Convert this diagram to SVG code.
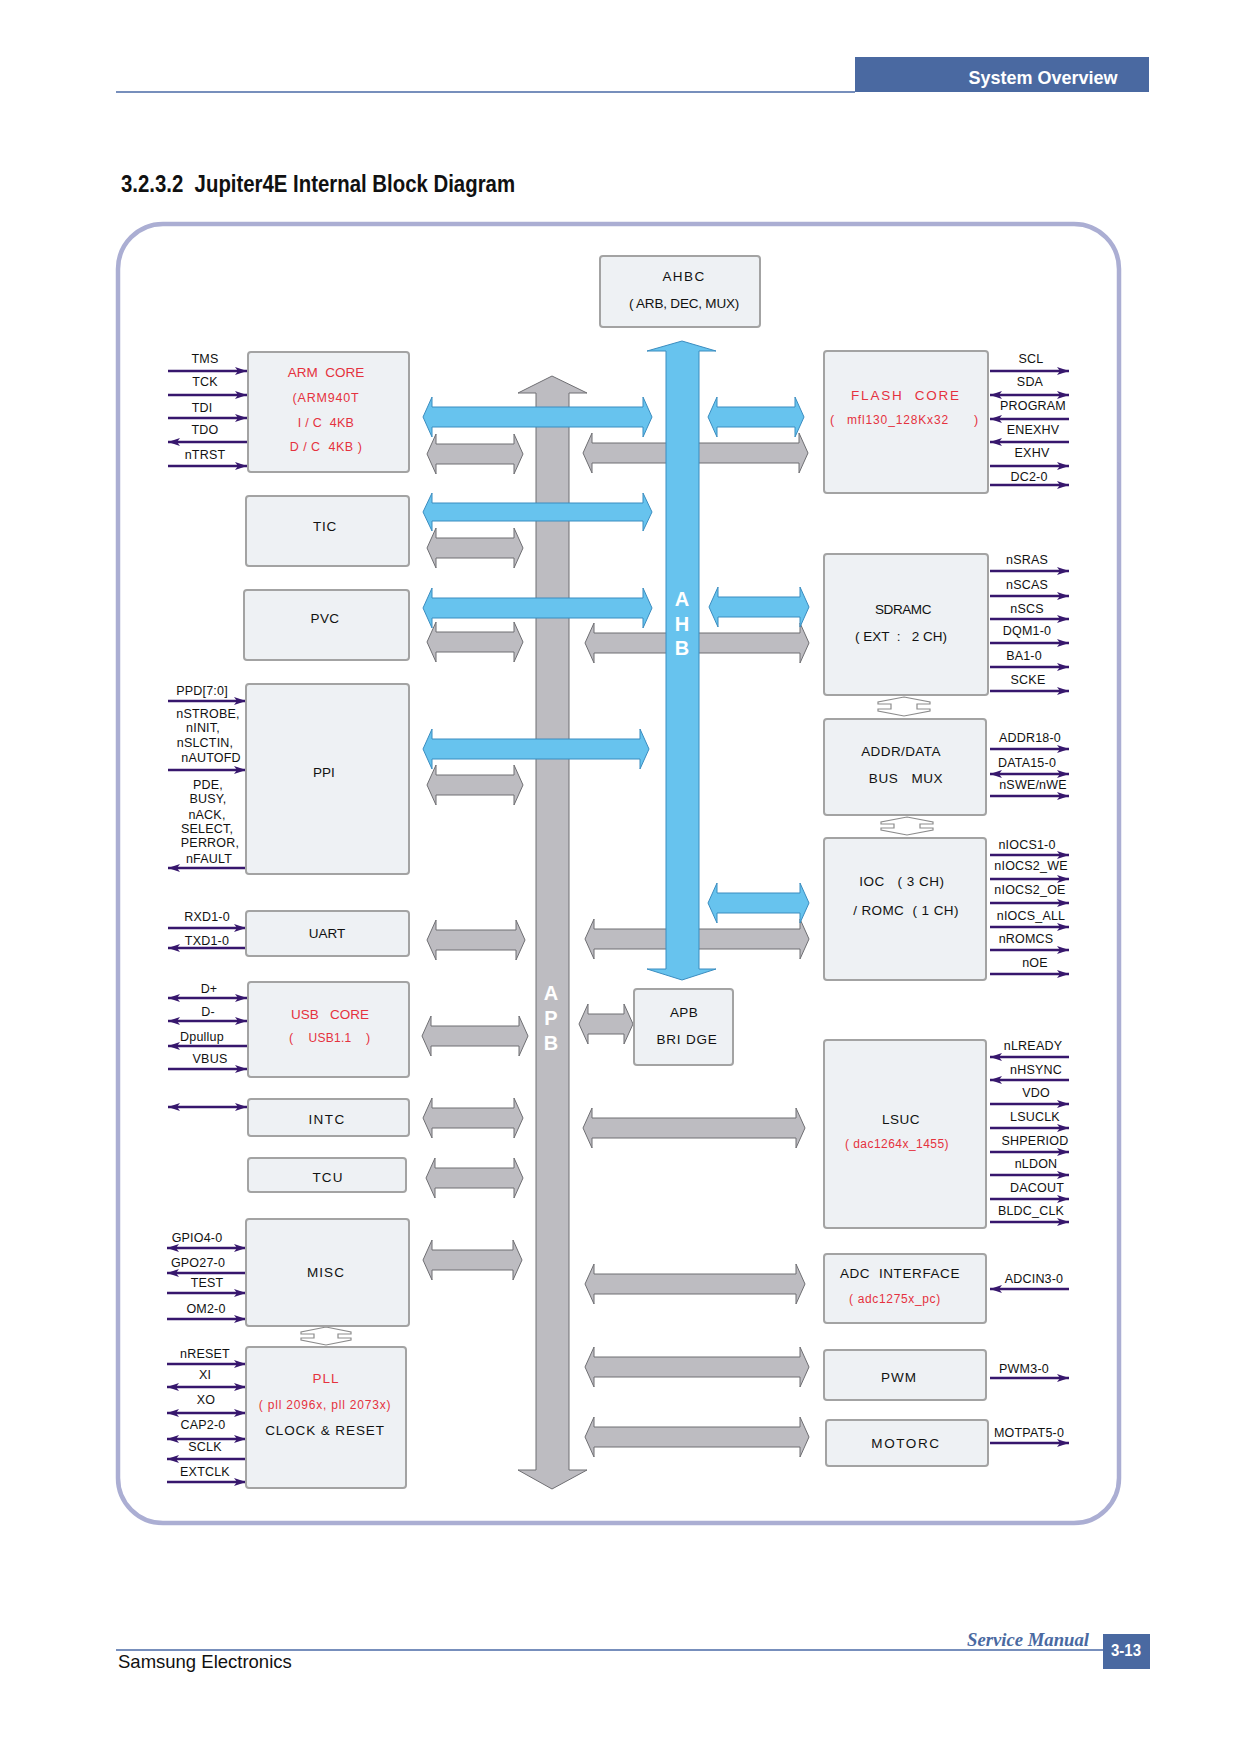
<svg xmlns="http://www.w3.org/2000/svg" width="1240" height="1754" viewBox="0 0 1240 1754" xml:space="preserve">
<defs>
<style>
text{white-space:pre}
.bx{fill:#eef1f4;stroke:#a3a3a3;stroke-width:2}
.t{font-family:"Liberation Sans",Arial,sans-serif;font-size:13.5px;fill:#111;text-anchor:middle}
.r{fill:#e5323e;font-size:12.5px}
.s{font-family:"Liberation Sans",Arial,sans-serif;font-size:12.5px;fill:#111;text-anchor:middle;letter-spacing:0.2px}
.ln{stroke:#37176d;stroke-width:2.5;fill:none}
.bl{fill:#67c3ee;stroke:#3b8dc0;stroke-width:1}
.gr{fill:#bdbcc1;stroke:#6f6f73;stroke-width:1}
.cn{fill:#fff;stroke:#8c8c8c;stroke-width:1.2}
.bus{font-family:"Liberation Sans",Arial,sans-serif;font-weight:bold;font-size:20px;fill:#fff;text-anchor:middle}
.R{marker-end:url(#ah)}
.L{marker-start:url(#ah)}
.B{marker-start:url(#ah);marker-end:url(#ah)}
</style>
<marker id="ah" viewBox="0 0 12 8" refX="12" refY="4" markerWidth="12" markerHeight="8" markerUnits="userSpaceOnUse" orient="auto-start-reverse"><path d="M0,0 L12,4 L0,8 L3,4 z" fill="#37176d"/></marker>
</defs>
<rect width="1240" height="1754" fill="#fff"/>

<g id="header">
<line x1="116" y1="92" x2="855" y2="92" stroke="#4a6aa6" stroke-width="1.5"/>
<rect x="855" y="57" width="294" height="35" fill="#4a69a1"/>
<text x="1043" y="84" font-family="Liberation Sans, Arial, sans-serif" font-weight="bold" font-size="18" fill="#fff" text-anchor="middle">System Overview</text>
<text x="121" y="192" font-family="Liberation Sans, Arial, sans-serif" font-weight="bold" font-size="23" fill="#111" textLength="394" lengthAdjust="spacingAndGlyphs">3.2.3.2  Jupiter4E Internal Block Diagram</text>
</g>

<rect id="frame" x="118" y="224" width="1001" height="1299" rx="45" fill="none" stroke="#abaed3" stroke-width="4.5"/>

<g id="connectors">
<polygon class="gr" points="583,453 592,433 592,443 799,443 799,433 808,453 799,473 799,463 592,463 592,473"/>
<polygon class="gr" points="585,643 594,623 594,633 800,633 800,623 809,643 800,663 800,653 594,653 594,663"/>
<polygon class="gr" points="585,939 594,919 594,929 800,929 800,919 809,939 800,959 800,949 594,949 594,959"/>
<polygon class="gr" points="579,1024 588,1004 588,1014 624,1014 624,1004 633,1024 624,1044 624,1034 588,1034 588,1044"/>
<polygon class="gr" points="583,1128 592,1108 592,1118 796,1118 796,1108 805,1128 796,1148 796,1138 592,1138 592,1148"/>
<polygon class="gr" points="585,1284 594,1264 594,1274 796,1274 796,1264 805,1284 796,1304 796,1294 594,1294 594,1304"/>
<polygon class="gr" points="585,1367 594,1347 594,1357 800,1357 800,1347 809,1367 800,1387 800,1377 594,1377 594,1387"/>
<polygon class="gr" points="585,1437 594,1417 594,1427 800,1427 800,1417 809,1437 800,1457 800,1447 594,1447 594,1457"/>

<polygon class="bl" points="682,341 716,351 699,351 699,969 716,969 682,980 647,969 666,969 666,351 647,351"/>
<text class="bus" x="682" y="606">A</text>
<text class="bus" x="682" y="631">H</text>
<text class="bus" x="682" y="655">B</text>

<polygon class="gr" points="552,376 587,393 569,393 569,1470 587,1470 552,1489 518,1470 536,1470 536,393 518,393"/>
<text class="bus" x="551" y="1000">A</text>
<text class="bus" x="551" y="1025">P</text>
<text class="bus" x="551" y="1050">B</text>

<polygon class="gr" points="427,454 436,434 436,444 514,444 514,434 523,454 514,474 514,464 436,464 436,474"/>
<polygon class="gr" points="427,548 436,528 436,538 514,538 514,528 523,548 514,568 514,558 436,558 436,568"/>
<polygon class="gr" points="427,642 436,622 436,632 514,632 514,622 523,642 514,662 514,652 436,652 436,662"/>
<polygon class="gr" points="427,785 436,765 436,775 514,775 514,765 523,785 514,805 514,795 436,795 436,805"/>
<polygon class="gr" points="427,940 436,920 436,930 516,930 516,920 525,940 516,960 516,950 436,950 436,960"/>
<polygon class="gr" points="422,1036 431,1016 431,1026 519,1026 519,1016 528,1036 519,1056 519,1046 431,1046 431,1056"/>
<polygon class="gr" points="423,1118 432,1098 432,1108 514,1108 514,1098 523,1118 514,1138 514,1128 432,1128 432,1138"/>
<polygon class="gr" points="426,1178 435,1158 435,1168 514,1168 514,1158 523,1178 514,1198 514,1188 435,1188 435,1198"/>
<polygon class="gr" points="423,1260 432,1240 432,1250 513,1250 513,1240 522,1260 513,1280 513,1270 432,1270 432,1280"/>

<polygon class="bl" points="423,417 432,397 432,407 643,407 643,397 652,417 643,437 643,427 432,427 432,437"/>
<polygon class="bl" points="423,512 432,493 432,503 643,503 643,493 652,512 643,531 643,521 432,521 432,531"/>
<polygon class="bl" points="423,608 432,588 432,598 643,598 643,588 652,608 643,628 643,618 432,618 432,628"/>
<polygon class="bl" points="423,749 432,729 432,739 640,739 640,729 649,749 640,769 640,759 432,759 432,769"/>

<polygon class="bl" points="708,417 717,397 717,407 795,407 795,397 804,417 795,437 795,427 717,427 717,437"/>
<polygon class="bl" points="709,607 718,587 718,597 800,597 800,587 809,607 800,627 800,617 718,617 718,627"/>
<polygon class="bl" points="708,903 717,883 717,893 800,893 800,883 809,903 800,923 800,913 717,913 717,923"/>

<polygon class="cn" points="904,697 930,702 930,704 917,704 917,709 930,709 930,711 904,716 878,711 878,709 891,709 891,704 878,704 878,702"/>
<polygon class="cn" points="907,817 933,822 933,824 920,824 920,828 933,828 933,830 907,835 881,830 881,828 894,828 894,824 881,824 881,822"/>
<polygon class="cn" points="326,1327 351,1332 351,1334 338,1334 338,1338 351,1338 351,1340 326,1345 301,1340 301,1338 314,1338 314,1334 301,1334 301,1332"/>

<path class="ln R" d="M168 371H247"/>
<path class="ln R" d="M168 395H247"/>
<path class="ln R" d="M168 418H247"/>
<path class="ln L" d="M168 442H247"/>
<path class="ln R" d="M168 466H247"/>
<path class="ln R" d="M168 701H246"/>
<path class="ln R" d="M168 770H246"/>
<path class="ln L" d="M168 868H246"/>
<path class="ln R" d="M168 928H246"/>
<path class="ln L" d="M168 948H246"/>
<path class="ln B" d="M168 998H247"/>
<path class="ln B" d="M168 1021H247"/>
<path class="ln L" d="M168 1046H247"/>
<path class="ln R" d="M168 1069H247"/>
<path class="ln B" d="M168 1107H247"/>
<path class="ln B" d="M167 1248H246"/>
<path class="ln L" d="M167 1273H246"/>
<path class="ln R" d="M167 1293H246"/>
<path class="ln R" d="M167 1319H246"/>
<path class="ln R" d="M167 1364H246"/>
<path class="ln B" d="M167 1387H246"/>
<path class="ln B" d="M167 1413H246"/>
<path class="ln B" d="M167 1439H246"/>
<path class="ln L" d="M167 1459H246"/>
<path class="ln R" d="M167 1482H246"/>

<path class="ln R" d="M990 371H1069"/>
<path class="ln B" d="M990 395H1069"/>
<path class="ln L" d="M990 419H1069"/>
<path class="ln L" d="M990 442H1069"/>
<path class="ln R" d="M990 466H1069"/>
<path class="ln R" d="M990 485H1069"/>
<path class="ln R" d="M990 571H1069"/>
<path class="ln R" d="M990 596H1069"/>
<path class="ln R" d="M990 619H1069"/>
<path class="ln R" d="M990 643H1069"/>
<path class="ln R" d="M990 667H1069"/>
<path class="ln R" d="M990 691H1069"/>
<path class="ln R" d="M990 749H1069"/>
<path class="ln B" d="M990 774H1069"/>
<path class="ln R" d="M990 796H1069"/>
<path class="ln R" d="M990 855H1069"/>
<path class="ln R" d="M990 879H1069"/>
<path class="ln R" d="M990 903H1069"/>
<path class="ln R" d="M990 927H1069"/>
<path class="ln R" d="M990 950H1069"/>
<path class="ln R" d="M990 974H1069"/>
<path class="ln L" d="M990 1057H1069"/>
<path class="ln L" d="M990 1080H1069"/>
<path class="ln R" d="M990 1104H1069"/>
<path class="ln R" d="M990 1128H1069"/>
<path class="ln R" d="M990 1152H1069"/>
<path class="ln R" d="M990 1175H1069"/>
<path class="ln R" d="M990 1199H1069"/>
<path class="ln R" d="M990 1222H1069"/>
<path class="ln L" d="M990 1289H1069"/>
<path class="ln R" d="M990 1378H1069"/>
<path class="ln R" d="M990 1443H1069"/>
</g>

<g id="signal-labels">
<text class="s" x="205" y="363">TMS</text>
<text class="s" x="205" y="386">TCK</text>
<text class="s" x="202" y="412">TDI</text>
<text class="s" x="205" y="434">TDO</text>
<text class="s" x="205" y="459">nTRST</text>
<text class="s" x="202" y="695">PPD[7:0]</text>
<text class="s" x="208" y="718">nSTROBE,</text>
<text class="s" x="203" y="732">nINIT,</text>
<text class="s" x="205" y="747">nSLCTIN,</text>
<text class="s" x="211" y="762">nAUTOFD</text>
<text class="s" x="208" y="789">PDE,</text>
<text class="s" x="208" y="803">BUSY,</text>
<text class="s" x="207" y="819">nACK,</text>
<text class="s" x="207" y="833">SELECT,</text>
<text class="s" x="210" y="847">PERROR,</text>
<text class="s" x="209" y="863">nFAULT</text>
<text class="s" x="207" y="921">RXD1-0</text>
<text class="s" x="207" y="945">TXD1-0</text>
<text class="s" x="209" y="993">D+</text>
<text class="s" x="208" y="1016">D-</text>
<text class="s" x="202" y="1041">Dpullup</text>
<text class="s" x="210" y="1063">VBUS</text>
<text class="s" x="197" y="1242">GPIO4-0</text>
<text class="s" x="198" y="1267">GPO27-0</text>
<text class="s" x="207" y="1287">TEST</text>
<text class="s" x="206" y="1313">OM2-0</text>
<text class="s" x="205" y="1358">nRESET</text>
<text class="s" x="205" y="1379">XI</text>
<text class="s" x="206" y="1404">XO</text>
<text class="s" x="203" y="1429">CAP2-0</text>
<text class="s" x="205" y="1451">SCLK</text>
<text class="s" x="205" y="1476">EXTCLK</text>

<text class="s" x="1031" y="363">SCL</text>
<text class="s" x="1030" y="386">SDA</text>
<text class="s" x="1033" y="410">PROGRAM</text>
<text class="s" x="1033" y="434">ENEXHV</text>
<text class="s" x="1032" y="457">EXHV</text>
<text class="s" x="1029" y="481">DC2-0</text>
<text class="s" x="1027" y="564">nSRAS</text>
<text class="s" x="1027" y="589">nSCAS</text>
<text class="s" x="1027" y="613">nSCS</text>
<text class="s" x="1027" y="635">DQM1-0</text>
<text class="s" x="1024" y="660">BA1-0</text>
<text class="s" x="1028" y="684">SCKE</text>
<text class="s" x="1030" y="742">ADDR18-0</text>
<text class="s" x="1027" y="767">DATA15-0</text>
<text class="s" x="1033" y="789">nSWE/nWE</text>
<text class="s" x="1027" y="849">nIOCS1-0</text>
<text class="s" x="1031" y="870">nIOCS2_WE</text>
<text class="s" x="1030" y="894">nIOCS2_OE</text>
<text class="s" x="1031" y="920">nIOCS_ALL</text>
<text class="s" x="1026" y="943">nROMCS</text>
<text class="s" x="1035" y="967">nOE</text>
<text class="s" x="1033" y="1050">nLREADY</text>
<text class="s" x="1036" y="1074">nHSYNC</text>
<text class="s" x="1036" y="1097">VDO</text>
<text class="s" x="1035" y="1121">LSUCLK</text>
<text class="s" x="1035" y="1145">SHPERIOD</text>
<text class="s" x="1036" y="1168">nLDON</text>
<text class="s" x="1037" y="1192">DACOUT</text>
<text class="s" x="1031" y="1215">BLDC_CLK</text>
<text class="s" x="1034" y="1283">ADCIN3-0</text>
<text class="s" x="1024" y="1373">PWM3-0</text>
<text class="s" x="1029" y="1437">MOTPAT5-0</text>
</g>

<g id="ahbc"><rect class="bx" x="600" y="256" width="160" height="71" rx="3"/>
<text class="t" x="684" y="281" style="letter-spacing:1.4px">AHBC</text>
<text class="t" x="684" y="308" style="letter-spacing:-0.2px">( ARB, DEC, MUX)</text></g>

<g id="arm-core"><rect class="bx" x="248" y="352" width="161" height="120" rx="3"/>
<text class="t r" x="326" y="377" style="font-size:13.5px">ARM  CORE</text>
<text class="t r" x="326" y="402" style="letter-spacing:0.8px">(ARM940T</text>
<text class="t r" x="326" y="427" style="letter-spacing:0.3px">I / C  4KB</text>
<text class="t r" x="326" y="451" style="letter-spacing:0.5px">D / C  4KB )</text></g>

<g id="tic"><rect class="bx" x="246" y="496" width="163" height="70" rx="3"/>
<text class="t" x="325" y="531" style="letter-spacing:0.8px">TIC</text></g>

<g id="pvc"><rect class="bx" x="244" y="590" width="165" height="70" rx="3"/>
<text class="t" x="325" y="623" style="letter-spacing:0.4px">PVC</text></g>

<g id="ppi"><rect class="bx" x="246" y="684" width="163" height="190" rx="3"/>
<text class="t" x="324" y="777">PPI</text></g>

<g id="uart"><rect class="bx" x="246" y="911" width="163" height="45" rx="3"/>
<text class="t" x="327" y="938">UART</text></g>

<g id="usb-core"><rect class="bx" x="248" y="982" width="161" height="95" rx="3"/>
<text class="t r" x="330" y="1019" style="font-size:13.5px">USB   CORE</text>
<text class="t r" x="291" y="1042">(</text>
<text class="t r" x="330" y="1042" style="font-size:12px;letter-spacing:0.3px">USB1.1</text>
<text class="t r" x="368" y="1042">)</text></g>

<g id="intc"><rect class="bx" x="248" y="1099" width="161" height="37" rx="3"/>
<text class="t" x="327" y="1124" style="letter-spacing:1.4px">INTC</text></g>

<g id="tcu"><rect class="bx" x="248" y="1158" width="158" height="34" rx="3"/>
<text class="t" x="328" y="1182" style="letter-spacing:1.1px">TCU</text></g>

<g id="misc"><rect class="bx" x="246" y="1219" width="163" height="107" rx="3"/>
<text class="t" x="326" y="1277" style="letter-spacing:1.1px">MISC</text></g>

<g id="pll"><rect class="bx" x="246" y="1347" width="160" height="141" rx="3"/>
<text class="t r" x="326" y="1383" style="font-size:13.5px;letter-spacing:1px">PLL</text>
<text class="t r" x="325" y="1409" style="font-size:12px;letter-spacing:0.8px">( pll 2096x, pll 2073x)</text>
<text class="t" x="325" y="1435" style="letter-spacing:0.9px">CLOCK &amp; RESET</text></g>

<g id="flash-core"><rect class="bx" x="824" y="351" width="164" height="142" rx="3"/>
<text class="t r" x="906" y="400" style="font-size:13.5px;letter-spacing:1.8px">FLASH  CORE</text>
<text class="t r" x="832" y="424">(</text>
<text class="t r" x="898" y="424" style="font-size:12px;letter-spacing:0.85px">mfl130_128Kx32</text>
<text class="t r" x="976" y="424">)</text></g>

<g id="sdramc"><rect class="bx" x="824" y="554" width="164" height="141" rx="3"/>
<text class="t" x="903" y="614" style="letter-spacing:-0.4px">SDRAMC</text>
<text class="t" x="901" y="641">( EXT  :   2 CH)</text></g>

<g id="addr-data-bus-mux"><rect class="bx" x="824" y="719" width="162" height="96" rx="3"/>
<text class="t" x="901" y="756" style="letter-spacing:0.4px">ADDR/DATA</text>
<text class="t" x="906" y="783" style="letter-spacing:0.6px">BUS   MUX</text></g>

<g id="ioc-romc"><rect class="bx" x="824" y="838" width="162" height="142" rx="3"/>
<text class="t" x="902" y="886" style="letter-spacing:0.5px">IOC   ( 3 CH)</text>
<text class="t" x="906" y="915" style="letter-spacing:0.4px">/ ROMC  ( 1 CH)</text></g>

<g id="apb-bridge"><rect class="bx" x="634" y="989" width="99" height="76" rx="3"/>
<text class="t" x="684" y="1017" style="letter-spacing:0.3px">APB</text>
<text class="t" x="687" y="1044" style="letter-spacing:0.8px">BRI DGE</text></g>

<g id="lsuc"><rect class="bx" x="824" y="1040" width="162" height="188" rx="3"/>
<text class="t" x="901" y="1124" style="letter-spacing:0.5px">LSUC</text>
<text class="t r" x="897" y="1148" style="font-size:12px;letter-spacing:0.45px">( dac1264x_1455)</text></g>

<g id="adc-interface"><rect class="bx" x="824" y="1254" width="162" height="69" rx="3"/>
<text class="t" x="900" y="1278" style="letter-spacing:0.6px">ADC  INTERFACE</text>
<text class="t r" x="895" y="1303" style="font-size:12px;letter-spacing:0.65px">( adc1275x_pc)</text></g>

<g id="pwm"><rect class="bx" x="824" y="1350" width="162" height="50" rx="3"/>
<text class="t" x="899" y="1382" style="letter-spacing:1px">PWM</text></g>

<g id="motorc"><rect class="bx" x="826" y="1420" width="162" height="46" rx="3"/>
<text class="t" x="906" y="1448" style="letter-spacing:1.6px">MOTORC</text></g>

<g id="footer">
<line x1="116" y1="1650" x2="1103" y2="1650" stroke="#4a6aa6" stroke-width="1.5"/>
<text x="967" y="1646" font-family="Liberation Serif, Times New Roman, serif" font-style="italic" font-weight="bold" font-size="19" fill="#4a69a1" textLength="122" lengthAdjust="spacingAndGlyphs">Service Manual</text>
<rect x="1103" y="1634" width="47" height="35" fill="#4a69a1"/>
<text x="1126" y="1656" font-family="Liberation Sans, Arial, sans-serif" font-weight="bold" font-size="17" fill="#fff" text-anchor="middle" textLength="30" lengthAdjust="spacingAndGlyphs">3-13</text>
<text x="118" y="1668" font-family="Liberation Sans, Arial, sans-serif" font-size="18.5" fill="#111">Samsung Electronics</text>
</g>
</svg>
